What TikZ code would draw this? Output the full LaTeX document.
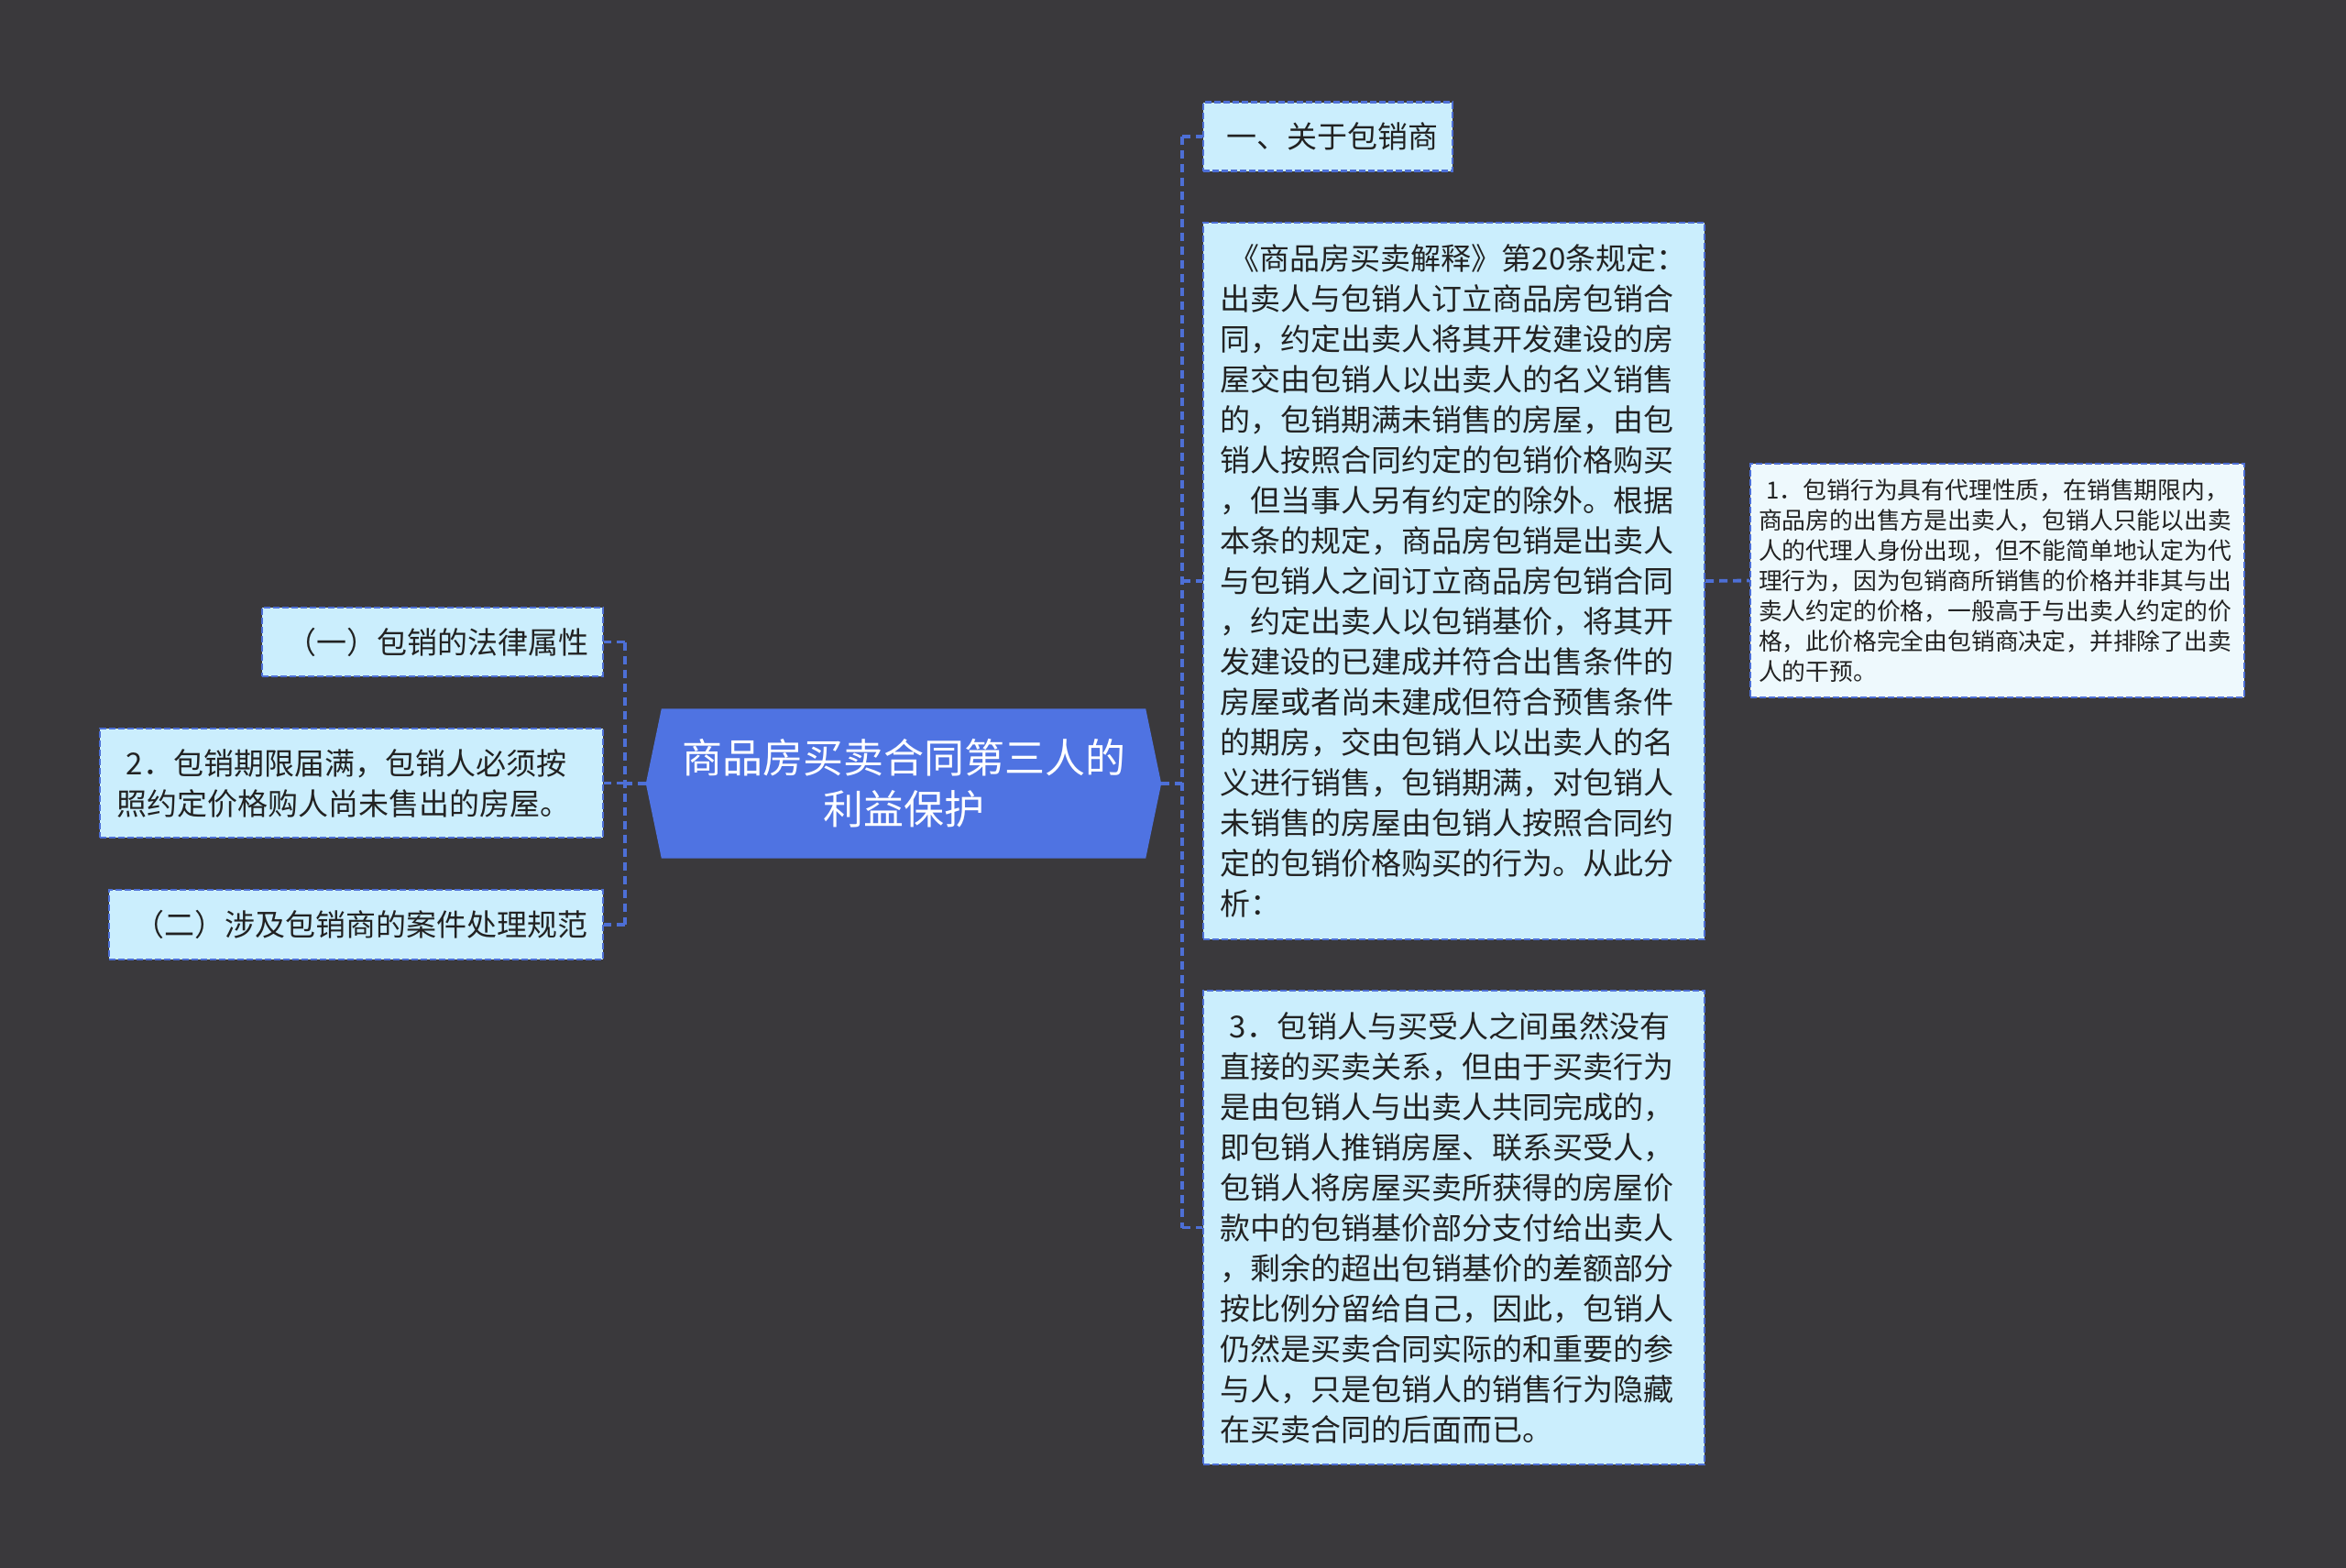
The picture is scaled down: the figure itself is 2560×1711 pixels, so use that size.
\documentclass[tikz,border=0pt]{standalone}
\usepackage{fontspec}
\setmainfont{Noto Sans CJK SC}
\usetikzlibrary{calc}
\definecolor{bg}{HTML}{3A393C}
\definecolor{boxfill}{HTML}{CBEEFD}
\definecolor{boxfilltwo}{HTML}{EEF9FD}
\definecolor{lineblue}{HTML}{4D6FD6}
\definecolor{ctrblue}{HTML}{4F73E2}
\definecolor{txt}{HTML}{222222}
\begin{document}
\begin{tikzpicture}[x=1pt,y=-1pt,
  conn/.style={draw=lineblue, line width=3.8pt, dash pattern=on 9pt off 6pt},
  boxnode/.style={draw=lineblue, fill=boxfill, line width=2.3pt, dash pattern=on 7pt off 3pt,
    text=txt, inner sep=0pt, font=\fontsize{33}{44}\selectfont},
  multibox/.style={boxnode, align=left, inner xsep=18pt},
  smallbox/.style={boxnode, fill=boxfilltwo, align=left, inner xsep=9pt, font=\fontsize{25.8}{33}\selectfont}
]
\fill[bg] (0,0) rectangle (2560,1711);
\useasboundingbox (0,0) rectangle (2560,1711);

% central topic
\node[minimum width=562pt, minimum height=163pt, inner sep=0pt] (ctr) at (986,855) {};
\fill[ctrblue] (ctr.west) -- ($(ctr.north west)+(17,0)$) -- ($(ctr.north east)+(-17,0)$)
  -- (ctr.east) -- ($(ctr.south east)+(-17,0)$) -- ($(ctr.south west)+(17,0)$) -- cycle;
\node[text=white, font=\fontsize{44}{56}\selectfont, align=center, inner sep=0pt] (ctrtext) at (ctr.center)
  {商品房买卖合同第三人的\\利益保护};

% right branch
\node[boxnode, minimum width=272pt, minimum height=75pt] (b1) at (1449,149)
  {\hspace*{0.33em}一、关于包销商};
\node[multibox, text width=511pt, minimum height=782pt] (b2) at (1586.5,634)
  {\hspace*{0.33em}《商品房买卖解释》第20条规定：\\
出卖人与包销人订立商品房包销合\\
同，约定出卖人将其开发建设的房\\
屋交由包销人以出卖人的名义销售\\
的，包销期满未销售的房屋，由包\\
销人按照合同约定的包销价格购买\\
，但当事人另有约定的除外。根据\\
本条的规定，商品房包销是出卖人\\
与包销人之间订立商品房包销合同\\
，约定出卖人以包销基价，将其开\\
发建设的已建成并符合出售条件的\\
房屋或者尚未建成但符合预售条件\\
的期房，交由包销人以出卖人的名\\
义进行销售，包销期满，对包销人\\
未销售的房屋由包销人按照合同约\\
定的包销价格购买的行为。从此分\\
析：};
\node[multibox, text width=511pt, minimum height=517pt] (b3) at (1586.5,1339.5)
  {\hspace*{0.33em}3．包销人与买受人之间虽然没有\\
直接的买卖关系，但由于买卖行为\\
是由包销人与出卖人共同完成的，\\
即包销人推销房屋、联系买受人，\\
包销人将房屋买卖所获得的房屋价\\
款中的包销基价部分支付给出卖人\\
，剩余的超出包销基价的差额部分\\
按比例分留给自己，因此，包销人\\
仍然是买卖合同实际的和重要的参\\
与人，只是包销人的销售行为隐藏\\
在买卖合同的后面而已。};
\node[smallbox, text width=521pt, minimum height=255pt] (b4) at (2179.5,633.5)
  {\hspace*{0.33em}1．包销行为具有代理性质，在销售期限内，\\
商品房的出售方是出卖人，包销人只能以出卖\\
人的代理人身份出现，但不能简单地认定为代\\
理行为，因为包销商所销售的价格并非其与出\\
卖人约定的价格，一般高于与出卖人约定的价\\
格，此价格完全由包销商决定，并排除了出卖\\
人的干预。};

% left branch
\node[boxnode, minimum width=372pt, minimum height=75pt] (l1) at (472,700.5)
  {\hspace*{0.33em}（一）包销的法律属性};
\node[multibox, text width=513pt, minimum height=119pt] (l2) at (383.5,854.5)
  {\hspace*{0.33em}2．包销期限届满，包销人必须按\\
照约定价格购人尚未售出的房屋。};
\node[boxnode, minimum width=539pt, minimum height=76pt] (l3) at (388.5,1009)
  {\hspace*{0.33em}（二）涉及包销商的案件处理规范};

% connectors right
\coordinate (rs) at (1290,855);
\draw[conn] (ctr.east) -- (rs);
\draw[conn] (rs |- b1.west) -- (rs |- b3.west);
\draw[conn] (rs |- b1.west) -- (b1.west);
\draw[conn] (rs |- b2.west) -- (b2.west);
\draw[conn] (rs |- b3.west) -- (b3.west);
\draw[conn] (b2.east) -- (b4.west);

% connectors left
\coordinate (ls) at (682,855);
\draw[conn] (ctr.west) -- (ls);
\draw[conn] (ls |- l1.east) -- (ls |- l3.east);
\draw[conn] (ls |- l1.east) -- (l1.east);
\draw[conn] (ls |- l2.east) -- (l2.east);
\draw[conn] (ls |- l3.east) -- (l3.east);
\end{tikzpicture}
\end{document}
